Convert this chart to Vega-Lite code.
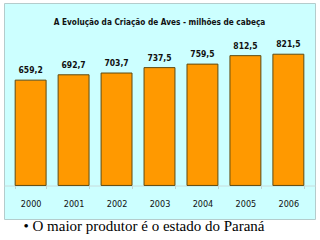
{
  "$schema": "https://vega.github.io/schema/vega-lite/v6.json",
  "autosize": {"type": "none"},
  "width": 311,
  "height": 216,
  "padding": {"left": 4, "top": 3, "right": 5, "bottom": 21},
  "background": "#ffffff",
  "config": {
    "locale": {"number": {"decimal": ",", "thousands": ".", "grouping": [3], "currency": ["R$", ""]}},
    "view": {"fill": "#ccffff", "stroke": "#b4cccc", "strokeWidth": 1},
    "font": "'DejaVu Sans Condensed', 'Liberation Sans', sans-serif"
  },
  "title": {
    "text": "A Evolução da Criação de Aves - milhões de cabeça",
    "orient": "top",
    "anchor": "middle",
    "offset": -18,
    "dy": 12,
    "baseline": "alphabetic",
    "font": "'DejaVu Sans Condensed', 'Liberation Sans', sans-serif",
    "fontSize": 8.2,
    "fontWeight": "bold",
    "color": "#111111"
  },
  "data": {
    "values": [
      {"ano": "2000", "valor": 659.2},
      {"ano": "2001", "valor": 692.7},
      {"ano": "2002", "valor": 703.7},
      {"ano": "2003", "valor": 737.5},
      {"ano": "2004", "valor": 759.5},
      {"ano": "2005", "valor": 812.5},
      {"ano": "2006", "valor": 821.5}
    ]
  },
  "encoding": {
    "x": {
      "field": "ano",
      "type": "ordinal",
      "scale": {"paddingInner": 0.28, "paddingOuter": 0.26},
      "axis": {
        "orient": "bottom",
        "offset": -33.5,
        "labelAngle": 0,
        "labelFont": "'DejaVu Sans Condensed', 'Liberation Sans', sans-serif",
        "labelFontSize": 9,
        "labelColor": "#111111",
        "labelPadding": 11,
        "labelBaseline": "top",
        "ticks": true,
        "tickSize": 3,
        "tickColor": "#c0d4d4",
        "tickBand": "extent",
        "domainColor": "#c8dcdc",
        "title": "• O maior produtor é o estado do Paraná",
        "titleFont": "Liberation Serif",
        "titleFontSize": 15,
        "titleFontWeight": "normal",
        "titleColor": "#000000",
        "titleAlign": "left",
        "titleBaseline": "top",
        "titleX": 19,
        "titleY": 32.5
      }
    },
    "y": {
      "field": "valor",
      "type": "quantitative",
      "scale": {"domain": [-210, 1142], "nice": false, "zero": false},
      "axis": null
    }
  },
  "layer": [
    {
      "mark": {"type": "bar", "fill": "#ff9900", "stroke": "#5e4b12", "strokeWidth": 1},
      "encoding": {"y2": {"datum": 0}}
    },
    {
      "mark": {"type": "text", "baseline": "alphabetic", "dy": -7, "font": "'DejaVu Sans Condensed', 'Liberation Sans', sans-serif", "fontSize": 8.5, "fontWeight": "bold", "color": "#111111"},
      "encoding": {"text": {"field": "valor", "type": "quantitative", "format": ".1f"}}
    }
  ]
}
